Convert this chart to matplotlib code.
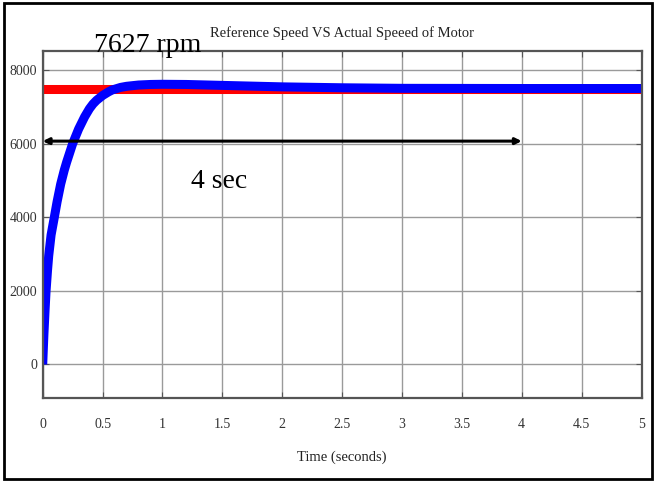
import matplotlib
matplotlib.use('Agg')
import matplotlib.pyplot as plt
from matplotlib.patches import Rectangle

# speed response
t_actual = [0, 0.005, 0.01, 0.02, 0.028, 0.04, 0.05, 0.07, 0.097, 0.12, 0.15, 0.18, 0.2, 0.25, 0.3, 0.35,
            0.39, 0.42, 0.45, 0.5, 0.55, 0.58, 0.65, 0.7, 0.8, 0.9, 1.0, 1.2, 1.5, 2.0, 2.5, 3.0, 4.0, 5.0]
speed_actual = [0, 420, 820, 1500, 2000, 2550, 2950, 3520, 4000, 4420, 4900, 5280, 5500, 6000, 6400, 6730,
                6950, 7080, 7180, 7310, 7410, 7460, 7530, 7560, 7595, 7610, 7615, 7610, 7585, 7545, 7520, 7505, 7500, 7500]
t_ref = [0, 5]
speed_ref = [7500, 7500]

x_ticks = [0, 0.5, 1, 1.5, 2, 2.5, 3, 3.5, 4, 4.5, 5]
x_labels = ['0', '0.5', '1', '1.5', '2', '2.5', '3', '3.5', '4', '4.5', '5']
y_ticks = [0, 2000, 4000, 6000, 8000]

plt.rcParams['font.family'] = ['Liberation Serif', 'DejaVu Serif']

fig = plt.figure(figsize=(6.56, 4.82), dpi=100)
ax = fig.add_axes([0.0651, 0.1737, 0.9128, 0.7205])

ax.plot(t_ref, speed_ref, color='red', linewidth=6.5, solid_capstyle='butt')
ax.plot(t_actual, speed_actual, color='blue', linewidth=6.5, solid_capstyle='butt', solid_joinstyle='round')

# 4 sec settling arrow
ax.annotate('', xy=(0, 6070), xytext=(4, 6070),
            arrowprops=dict(arrowstyle='<|-|>', color='black', lw=2.2, mutation_scale=9, shrinkA=0, shrinkB=0))
ax.text(1.47, 4980, '4 sec', fontsize=20, ha='center', va='center')
ax.text(0.88, 8660, '7627 rpm', fontsize=20, ha='center', va='center', clip_on=False)

ax.set_xlim(0, 5)
ax.set_ylim(-920, 8520)
ax.set_xticks(x_ticks)
ax.set_xticklabels(x_labels)
ax.set_yticks(y_ticks)
ax.grid(True, color='#9a9a9a', linewidth=1)
ax.tick_params(direction='in', length=4, color='#555555', labelsize=10, labelcolor='#333333',
               top=True, right=True)
ax.tick_params(axis='x', pad=14)
ax.tick_params(axis='y', pad=4)
for s in ax.spines.values():
    s.set_color('#555555')
    s.set_linewidth(1.6)

ax.set_title('Reference Speed VS Actual Speeed of Motor', fontsize=10.5, color='#222222', pad=10)
ax.set_xlabel('Time (seconds)', fontsize=10.5, color='#222222', labelpad=14)

fig.patches.append(Rectangle((4 / 656, 3 / 482), 648 / 656, 476 / 482, transform=fig.transFigure,
                             fill=False, edgecolor='black', linewidth=2))

fig.savefig('out.png', dpi=100)
